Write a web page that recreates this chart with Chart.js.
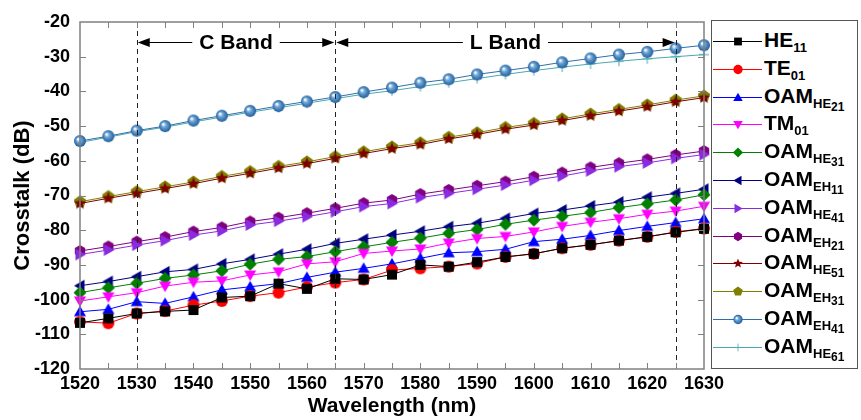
<!DOCTYPE html>
<html>
<head>
<meta charset="utf-8">
<script src="https://cdn.jsdelivr.net/npm/chart.js@4.4.0/dist/chart.umd.min.js"></script>
<style>
    html, body { margin: 0; padding: 0; background: #fff; }
    #wrap { position: relative; width: 861px; height: 420px; }
    #legendBox {
        position: absolute; left: 711px; top: 20px; width: 147px; height: 349px;
        border: 1px solid #555; background: #fff; box-sizing: border-box;
        font-family: "Liberation Sans", Arial, sans-serif; font-weight: bold; color: #000;
    }
    .lg-row { position: absolute; left: 0; height: 28px; width: 146px; }
    .lg-row canvas { position: absolute; left: 0; top: 0; }
    .lg-row span { position: absolute; left: 52px; top: 1px; font-size: 21px; white-space: nowrap; line-height: 22px; }
    .lg-row sub { font-size: 13px; vertical-align: -5px; }
    .lg-row sub sub { font-size: 12px; vertical-align: -3px; }
</style>
</head>
<body>
<div id="wrap">
    <canvas id="grafico" width="861" height="420"></canvas>
    <div id="legendBox"></div>
</div>
<script>
var wavelengths = [1520, 1525, 1530, 1535, 1540, 1545, 1550, 1555, 1560, 1565, 1570, 1575,
    1580, 1585, 1590, 1595, 1600, 1605, 1610, 1615, 1620, 1625, 1630];

var HE11 = [-106.7, -105.4, -104.0, -103.4, -103.0, -99.4, -99.0, -95.4, -96.9, -94.0, -94.2, -92.8,
    -90.0, -90.5, -89.2, -87.7, -86.8, -85.2, -84.2, -83.0, -81.9, -80.6, -79.6];
var TE01 = [-106.4, -106.8, -104.0, -103.3, -101.6, -100.4, -99.0, -98.0, -96.4, -95.1, -94.2, -91.5,
    -91.0, -90.5, -89.6, -87.7, -86.8, -85.2, -84.2, -83.0, -81.9, -80.5, -79.5];
var OAM_HE21 = [-103.5, -102.8, -100.6, -101.1, -99.2, -97.2, -96.3, -95.4, -93.6, -92.1, -91.0, -89.7,
    -88.1, -86.5, -86.2, -85.5, -83.3, -82.6, -81.5, -80.1, -78.9, -77.8, -76.7];
var TM01 = [-100.4, -99.2, -98.0, -96.1, -95.0, -94.6, -92.9, -92.0, -89.7, -89.1, -86.7, -86.0,
    -85.4, -83.7, -82.4, -81.8, -80.5, -78.9, -77.7, -76.7, -75.4, -74.5, -73.1];
var OAM_HE31 = [-98.0, -96.6, -95.3, -93.9, -92.9, -91.7, -89.8, -88.4, -87.6, -86.2, -84.8, -83.5,
    -82.3, -80.9, -79.8, -78.3, -77.1, -76.0, -74.9, -73.5, -72.4, -71.3, -69.8];
var OAM_EH11 = [-96.0, -94.8, -93.4, -92.0, -91.3, -89.7, -88.4, -86.9, -85.5, -83.8, -82.6, -81.4,
    -80.3, -79.0, -78.0, -76.6, -75.2, -74.2, -73.0, -71.9, -70.5, -69.4, -68.2];
var OAM_HE41 = [-87.0, -85.7, -84.3, -83.0, -81.4, -80.2, -78.5, -77.4, -76.1, -74.7, -73.2, -72.3,
    -70.6, -69.4, -68.2, -67.0, -65.6, -64.4, -62.9, -61.7, -60.6, -59.3, -58.2];
var OAM_EH21 = [-86.0, -84.7, -83.3, -82.0, -80.4, -79.2, -77.5, -76.4, -75.1, -73.7, -72.2, -71.3,
    -69.6, -68.4, -67.2, -66.0, -64.6, -63.4, -61.9, -60.7, -59.6, -58.3, -57.2];
var OAM_HE51 = [-72.3, -70.8, -69.4, -68.0, -66.6, -65.0, -63.6, -62.1, -60.8, -59.3, -57.9, -56.5,
    -55.3, -53.7, -52.4, -50.9, -49.7, -48.4, -47.0, -45.7, -44.4, -43.0, -41.8];
var OAM_EH31 = [-71.8, -70.3, -68.9, -67.5, -66.1, -64.5, -63.1, -61.6, -60.3, -58.8, -57.4, -56.0,
    -54.8, -53.2, -51.9, -50.4, -49.2, -47.9, -46.5, -45.2, -43.9, -42.5, -41.3];
var OAM_EH41 = [-54.3, -52.9, -51.3, -50.0, -48.4, -47.0, -45.6, -44.2, -42.9, -41.6, -40.2, -38.9,
    -37.5, -36.5, -35.1, -34.0, -32.9, -31.6, -30.5, -29.4, -28.6, -27.6, -26.7];
var OAM_HE61 = [-54.7, -53.2, -51.6, -50.3, -48.8, -47.4, -46.0, -44.7, -43.4, -42.1, -40.8, -39.8,
    -38.6, -37.5, -36.3, -35.1, -34.0, -33.0, -32.1, -31.3, -30.6, -30.0, -29.4];

// legend text: main, subscript, sub-subscript
var nombres = ["HE", "TE", "OAM", "TM", "OAM", "OAM", "OAM", "OAM", "OAM", "OAM", "OAM", "OAM"];
var subNombres = ["11", "01", "HE", "01", "HE", "EH", "HE", "EH", "HE", "EH", "EH", "HE"];
var subSubNombres = ["", "", "21", "", "31", "11", "41", "21", "51", "31", "41", "61"];

var bandEdges = [1530, 1565, 1625];
var bandNames = ["C Band", "L Band"];

var FONT = "'Liberation Sans', Arial, sans-serif";

var series = [
    {data: HE11, color: "#000000", marker: "square"},
    {data: TE01, color: "#ff0000", marker: "circle"},
    {data: OAM_HE21, color: "#0000ff", marker: "triUp"},
    {data: TM01, color: "#ff00ff", marker: "triDown"},
    {data: OAM_HE31, color: "#008000", marker: "diamond"},
    {data: OAM_EH11, color: "#000080", marker: "triLeft"},
    {data: OAM_HE41, color: "#8a2be2", marker: "triRight"},
    {data: OAM_EH21, color: "#800080", marker: "hexagon"},
    {data: OAM_HE51, color: "#800000", marker: "star"},
    {data: OAM_EH31, color: "#808000", marker: "pentagon"},
    {data: OAM_EH41, color: "#2f6fae", marker: "sphere"},
    {data: OAM_HE61, color: "#49a8b0", marker: "cross"}
]

function polygon(ctx, cx, cy, r, n, rot) {
    ctx.beginPath();
    for (var i = 0; i < n; i++) {
        var a = rot + i * 2 * Math.PI / n;
        var px = cx + r * Math.cos(a), py = cy + r * Math.sin(a);
        if (i == 0) ctx.moveTo(px, py); else ctx.lineTo(px, py);
    }
    ctx.closePath();
    ctx.fill();
}

function dibujarMarker(ctx, tipo, color, cx, cy) {
    ctx.fillStyle = color;
    ctx.strokeStyle = color;
    var up = -Math.PI / 2;
    switch (tipo) {
        case "square": ctx.fillRect(cx - 5, cy - 5, 10, 10); break;
        case "circle": ctx.beginPath(); ctx.arc(cx, cy, 6, 0, 2 * Math.PI); ctx.fill(); break;
        case "triUp": polygon(ctx, cx, cy + 1, 7, 3, up); break;
        case "triDown": polygon(ctx, cx, cy - 1, 7, 3, Math.PI / 2); break;
        case "triLeft": polygon(ctx, cx + 1, cy, 7, 3, Math.PI); break;
        case "triRight": polygon(ctx, cx - 1, cy, 7, 3, 0); break;
        case "diamond": polygon(ctx, cx, cy, 6.5, 4, up); break;
        case "hexagon": polygon(ctx, cx, cy, 6, 6, up); break;
        case "pentagon": polygon(ctx, cx, cy, 6.5, 5, up); break;
        case "star":
            ctx.beginPath();
            for (var i = 0; i < 10; i++) {
                var r = i % 2 == 0 ? 6.5 : 2.8;
                var a = up + i * Math.PI / 5;
                if (i == 0) ctx.moveTo(cx + r * Math.cos(a), cy + r * Math.sin(a));
                else ctx.lineTo(cx + r * Math.cos(a), cy + r * Math.sin(a));
            }
            ctx.closePath(); ctx.fill(); break;
        case "sphere":
            var g = ctx.createRadialGradient(cx - 2, cy - 2, 0.5, cx, cy, 6);
            g.addColorStop(0, "#ffffff");
            g.addColorStop(0.35, "#6ea6d8");
            g.addColorStop(1, "#1f5c99");
            ctx.fillStyle = g;
            ctx.beginPath(); ctx.arc(cx, cy, 6, 0, 2 * Math.PI); ctx.fill(); break;
        case "cross":
            ctx.lineWidth = 1;
            ctx.beginPath();
            ctx.moveTo(cx - 5, cy); ctx.lineTo(cx + 5, cy);
            ctx.moveTo(cx, cy - 5); ctx.lineTo(cx, cy + 5);
            ctx.stroke(); break;
    }
}

function crearMarker(tipo, color) {
    var c = document.createElement("canvas");
    c.width = 16; c.height = 16;
    dibujarMarker(c.getContext("2d"), tipo, color, 8, 8);
    return c;
}

var datasets = series.map(function (s, i) {
    var img = crearMarker(s.marker, s.color);
    return {
        label: nombres[i] + subNombres[i] + subSubNombres[i],
        data: s.data,
        borderColor: s.color,
        backgroundColor: s.color,
        borderWidth: 1,
        pointStyle: img,
        pointRadius: 6,
        pointHoverRadius: 6,
        tension: 0,
        clip: false
    }
});

// frame, inward ticks, band marks
var extrasPlugin = {
    id: "extras",
    afterDatasetsDraw: function (chart) {
        var ctx = chart.ctx, a = chart.chartArea;
        var xs = chart.scales.x, ys = chart.scales.y;
        ctx.save();
        // band dashed lines
        ctx.strokeStyle = "#222";
        ctx.lineWidth = 1;
        ctx.setLineDash([5, 4]);
        bandEdges.forEach(function (w) {
            var px = Math.round(xs.getPixelForValue(w)) + 0.5;
            ctx.beginPath(); ctx.moveTo(px, a.top); ctx.lineTo(px, a.bottom); ctx.stroke();
        });
        ctx.setLineDash([]);
        // arrows + labels
        var yArrow = Math.round(ys.getPixelForValue(-25.8)) + 0.5;
        ctx.font = "bold 21px " + FONT;
        ctx.textAlign = "center";
        ctx.textBaseline = "middle";
        ctx.fillStyle = "#000";
        ctx.strokeStyle = "#000";
        for (var b = 0; b < bandNames.length; b++) {
            var x1 = xs.getPixelForValue(bandEdges[b]) + 1;
            var x2 = xs.getPixelForValue(bandEdges[b + 1]) - 1;
            var mid = (x1 + x2) / 2;
            var tw = ctx.measureText(bandNames[b]).width / 2 + 7;
            ctx.beginPath();
            ctx.moveTo(x1 + 10, yArrow); ctx.lineTo(mid - tw, yArrow);
            ctx.moveTo(mid + tw, yArrow); ctx.lineTo(x2 - 10, yArrow);
            ctx.stroke();
            ctx.beginPath();
            ctx.moveTo(x1, yArrow); ctx.lineTo(x1 + 12, yArrow - 4.5); ctx.lineTo(x1 + 12, yArrow + 4.5); ctx.closePath(); ctx.fill();
            ctx.beginPath();
            ctx.moveTo(x2, yArrow); ctx.lineTo(x2 - 12, yArrow - 4.5); ctx.lineTo(x2 - 12, yArrow + 4.5); ctx.closePath(); ctx.fill();
            ctx.fillText(bandNames[b], mid, yArrow + 1);
        }
        // frame
        ctx.strokeStyle = "#808080";
        ctx.lineWidth = 1.5;
        ctx.strokeRect(a.left, a.top, a.right - a.left, a.bottom - a.top);
        ctx.lineWidth = 1;
        for (var w = 1525; w < 1630; w += 5) {
            var px = Math.round(xs.getPixelForValue(w)) + 0.5;
            ctx.beginPath();
            ctx.moveTo(px, a.bottom); ctx.lineTo(px, a.bottom - 6);
            ctx.moveTo(px, a.top); ctx.lineTo(px, a.top + 6);
            ctx.stroke();
        }
        for (var v = -110; v < -20; v += 10) {
            var py = Math.round(ys.getPixelForValue(v)) + 0.5;
            ctx.beginPath();
            ctx.moveTo(a.left, py); ctx.lineTo(a.left + 6, py);
            ctx.moveTo(a.right, py); ctx.lineTo(a.right - 6, py);
            ctx.stroke();
        }
        ctx.restore();
    }
}

var chart = new Chart("grafico", {
    type: "line",
    data: {labels: wavelengths, datasets: datasets},
    options: {
        responsive: false,
        animation: false,
        layout: {padding: {left: 0, right: 157, top: 22, bottom: 0}},
        plugins: {legend: {display: false}, tooltip: {enabled: false}},
        scales: {
            x: {
                type: "linear", min: 1520, max: 1630,
                afterFit: function (s) { s.height = 51; },
                grid: {display: false, drawTicks: false},
                border: {display: false},
                ticks: {
                    stepSize: 10, color: "#000", padding: 4, maxRotation: 0,
                    font: {family: FONT, size: 18, weight: "bold"},
                    callback: function (v) { return String(v); }
                },
                title: {display: true, text: "Wavelength (nm)", color: "#000", padding: {top: 0, bottom: 1}, font: {family: FONT, size: 21, weight: "bold"}}
            },
            y: {
                min: -120, max: -20,
                afterFit: function (s) { s.width = 80; },
                grid: {display: false, drawTicks: false},
                border: {display: false},
                ticks: {stepSize: 10, color: "#000", padding: 10, font: {family: FONT, size: 18, weight: "bold"}},
                title: {display: true, text: "Crosstalk (dB)", color: "#000", padding: {top: 10, bottom: 0}, font: {family: FONT, size: 22, weight: "bold"}}
            }
        }
    },
    plugins: [extrasPlugin]
});

// legend
var legendBox = document.getElementById("legendBox");
series.forEach(function (s, i) {
    var row = document.createElement("div");
    row.className = "lg-row";
    row.style.top = (7 + i * 27.8) + "px";
    var c = document.createElement("canvas");
    c.width = 52; c.height = 28;
    var ctx = c.getContext("2d");
    ctx.strokeStyle = s.color;
    ctx.lineWidth = 1;
    ctx.beginPath(); ctx.moveTo(1, 13.5); ctx.lineTo(50, 13.5); ctx.stroke();
    ctx.save();
    ctx.translate(26, 13.5);
    ctx.scale(0.78, 0.78);
    dibujarMarker(ctx, s.marker, s.color, 0, 0);
    ctx.restore();
    row.appendChild(c);
    var txt = document.createElement("span");
    var html = nombres[i] + "<sub>" + subNombres[i];
    if (subSubNombres[i]) html += "<sub>" + subSubNombres[i] + "</sub>";
    html += "</sub>";
    txt.innerHTML = html;
    row.appendChild(txt);
    legendBox.appendChild(row);
});
</script>
</body>
</html>
